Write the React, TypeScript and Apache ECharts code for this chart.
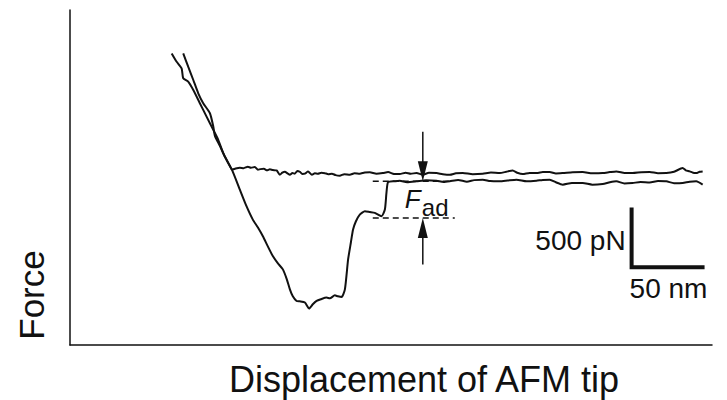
import React, { useEffect, useRef } from "react";
import * as echarts from "echarts";

// Displacement (nm) and force (pN)
const approachX = [77.6, 81.0, 84.5, 87.9, 91.3, 95.9, 98.2, 99.3, 102.7, 106.2, 109.6, 111.0, 113.5, 116.4, 119, 121.9, 124, 126.7, 128.8, 130.5, 132.9, 135, 137.0, 139, 141.6, 143.8, 145.5, 147.3, 149, 150.7, 152.4, 154.1, 155.8, 157.5, 159.2, 161.0, 163.2, 165.8, 167.8, 169.9, 172.3, 174.7, 177, 179.5, 182, 184.9, 188, 191.8, 195, 198.6, 202, 205.5, 210, 214.4, 218, 222, 226.0, 230, 233.5, 237.5, 241.8, 246, 251.2, 255.5, 260.3, 264.5, 269.2, 276, 282.9, 288.5, 294.5, 299, 303.4, 306.5, 310.3, 315, 319.7, 324, 328.8, 333, 337.7, 344.5, 351.4, 358, 365.1, 370, 374.4, 380, 385.6, 391.5, 397.3, 403, 408.7, 414, 419.9, 422, 424.7, 427, 429.2, 431.5, 433.6];
const approachF = [997, 886, 775, 664, 581, 497, 386, 308, 225, 133, 58, 25, 35, 42, 38, 50, 42, 47, 25, 30, 33, 20, 29, 22, 19, -17, 0, 8, -5, -17, -3, -8, 15, 8, -10, -8, 11, -17, -5, -8, 0, -4, -12, -8, -20, -25, -12, -17, -5, -8, 2, 3, -8, -3, 5, -10, -11, 0, -8, -3, -17, 0, -3, -12, -17, -5, -3, -12, -8, 2, -3, 8, 19, 0, -11, -2, -3, 5, 6, -6, -3, 3, 6, -5, -3, 5, 11, -2, -3, 4, 6, -4, -3, 8, 39, 20, 11, 0, -3, 8, 11];

const retractX = [69.7, 73.1, 76.5, 77.6, 81.0, 84.5, 89.0, 93.6, 98.2, 101.6, 105.0, 109.6, 111.0, 116.4, 120.5, 125.3, 128.8, 132.2, 135.6, 139.0, 142.5, 145.9, 148.6, 150.7, 152.7, 155.3, 157.5, 161.0, 163.9, 166.4, 169.0, 171.9, 175.8, 178.1, 181.5, 183.6, 186.1, 188.4, 190.6, 192.5, 194.0, 195.9, 198.6, 202.1, 205.5, 208.9, 213.5, 215.8, 216.9, 218.0, 222.6, 226, 231, 237.5, 244, 251.2, 256, 260.3, 266, 272, 277, 282.9, 288, 294.5, 300, 306.0, 313, 319.7, 324, 328.8, 333, 337.7, 344, 351.4, 358, 365.1, 370, 374.4, 380, 385.6, 391, 397.3, 403, 408.7, 414, 419.9, 424.7, 429.2, 433.6];
const retractF = [997, 927, 872, 789, 761, 691, 581, 469, 358, 275, 164, 53, 25, -142, -267, -392, -458, -531, -616, -697, -758, -808, -891, -975, -1033, -1072, -1075, -1085, -1135, -1100, -1072, -1058, -1044, -1050, -1025, -1033, -1039, -975, -725, -583, -475, -408, -350, -322, -329, -336, -364, -308, -167, -78, -71, -67, -80, -72, -62, -67, -78, -72, -60, -75, -62, -58, -70, -72, -65, -58, -72, -67, -60, -58, -80, -100, -86, -86, -100, -94, -80, -72, -90, -86, -78, -81, -70, -72, -88, -86, -75, -72, -100];

// Annotation values (nm, pN)
const adhesionLevels = [-72, -378];
const adhesionDashX = [[207.5, 260], [207.5, 263.7]];
const arrowX = 241.8;
const arrowTops = [342, -767];
const scaleOrigin = [384.9, -791];
const scaleLengthNm = 50;
const scaleLengthPN = 500;

const FONT = "'Liberation Sans', Arial, Helvetica, sans-serif";

export default function App() {
  const ref = useRef<HTMLDivElement>(null);
  useEffect(() => {
    if (!ref.current) return;
    const chart = echarts.init(ref.current, undefined, { renderer: "svg" });
    const zip = (xs: number[], ys: number[]) => xs.map((x, i) => [x, ys[i]]);
    const axisCommon = {
      type: "value" as const,
      axisLine: { show: true, onZero: false, lineStyle: { color: "#111", width: 1.5 } },
      axisTick: { show: false },
      axisLabel: { show: false },
      splitLine: { show: false },
    };
    chart.setOption({
      animation: false,
      backgroundColor: "#fff",
      grid: { left: 70, right: 15, top: 10, bottom: 55, containLabel: false },
      xAxis: { ...axisCommon, min: 0, max: 440 },
      yAxis: { ...axisCommon, min: -1440, max: 1360 },
      series: [
        {
          type: "line",
          data: zip(approachX, approachF),
          showSymbol: false,
          smooth: 0.2,
          lineStyle: { color: "#111", width: 2 },
        },
        {
          type: "line",
          data: zip(retractX, retractF),
          showSymbol: false,
          smooth: 0.2,
          lineStyle: { color: "#111", width: 2 },
        },
      ],
    });

    const px = (x: number, y: number) => chart.convertToPixel({ seriesIndex: 0 }, [x, y]) as number[];
    const g: any[] = [];
    adhesionLevels.forEach((lv, i) => {
      const a = px(adhesionDashX[i][0], lv);
      const b = px(adhesionDashX[i][1], lv);
      g.push({
        type: "line",
        shape: { x1: a[0], y1: a[1], x2: b[0], y2: b[1] },
        style: { stroke: "#111", lineWidth: 1.5, lineDash: [6, 4] },
      });
    });
    const ah = 20, aw = 5;
    const topTail = px(arrowX, arrowTops[0]);
    const topTip = px(arrowX, adhesionLevels[0]);
    g.push({ type: "line", shape: { x1: topTail[0], y1: topTail[1], x2: topTip[0], y2: topTip[1] - ah + 2 }, style: { stroke: "#111", lineWidth: 1.5 } });
    g.push({ type: "polygon", shape: { points: [[topTip[0] - aw, topTip[1] - ah], [topTip[0] + aw, topTip[1] - ah], [topTip[0], topTip[1]]] }, style: { fill: "#111" } });
    const botTail = px(arrowX, arrowTops[1]);
    const botTip = px(arrowX, adhesionLevels[1]);
    g.push({ type: "line", shape: { x1: botTail[0], y1: botTail[1], x2: botTip[0], y2: botTip[1] + ah - 2 }, style: { stroke: "#111", lineWidth: 1.5 } });
    g.push({ type: "polygon", shape: { points: [[botTip[0] - aw, botTip[1] + ah], [botTip[0] + aw, botTip[1] + ah], [botTip[0], botTip[1]]] }, style: { fill: "#111" } });
    g.push({ type: "text", x: topTip[0] - 18, y: 199, style: { text: "F", font: `italic 26px ${FONT}`, fill: "#111", verticalAlign: "middle", align: "left" } });
    g.push({ type: "text", x: topTip[0] - 1, y: 207, style: { text: "ad", font: `24px ${FONT}`, fill: "#111", verticalAlign: "middle", align: "left" } });
    const o = px(scaleOrigin[0], scaleOrigin[1]);
    const ox = px(scaleOrigin[0] + scaleLengthNm, scaleOrigin[1]);
    const oy = px(scaleOrigin[0], scaleOrigin[1] + scaleLengthPN);
    g.push({ type: "polyline", shape: { points: [[oy[0], oy[1]], [o[0], o[1]], [ox[0], ox[1]]] }, style: { stroke: "#111", lineWidth: 4, fill: null, lineJoin: "miter" } });
    g.push({ type: "text", x: o[0] - 6, y: 240, style: { text: "500 pN", font: `28px ${FONT}`, fill: "#111", verticalAlign: "middle", align: "right" } });
    g.push({ type: "text", x: o[0] - 2, y: 288, style: { text: "50 nm", font: `28px ${FONT}`, fill: "#111", verticalAlign: "middle", align: "left" } });
    g.push({ type: "text", x: 424, y: 379, style: { text: "Displacement of AFM tip", font: `36px ${FONT}`, fill: "#111", verticalAlign: "middle", align: "center" } });
    g.push({ type: "text", x: 31, y: 295, rotation: Math.PI / 2, style: { text: "Force", font: `35px ${FONT}`, fill: "#111", verticalAlign: "middle", align: "center" } });

    chart.setOption({ graphic: { elements: g } });
    return () => chart.dispose();
  }, []);
  return <div ref={ref} style={{ position: "fixed", left: 0, top: 0, width: 727, height: 400 }} />;
}
